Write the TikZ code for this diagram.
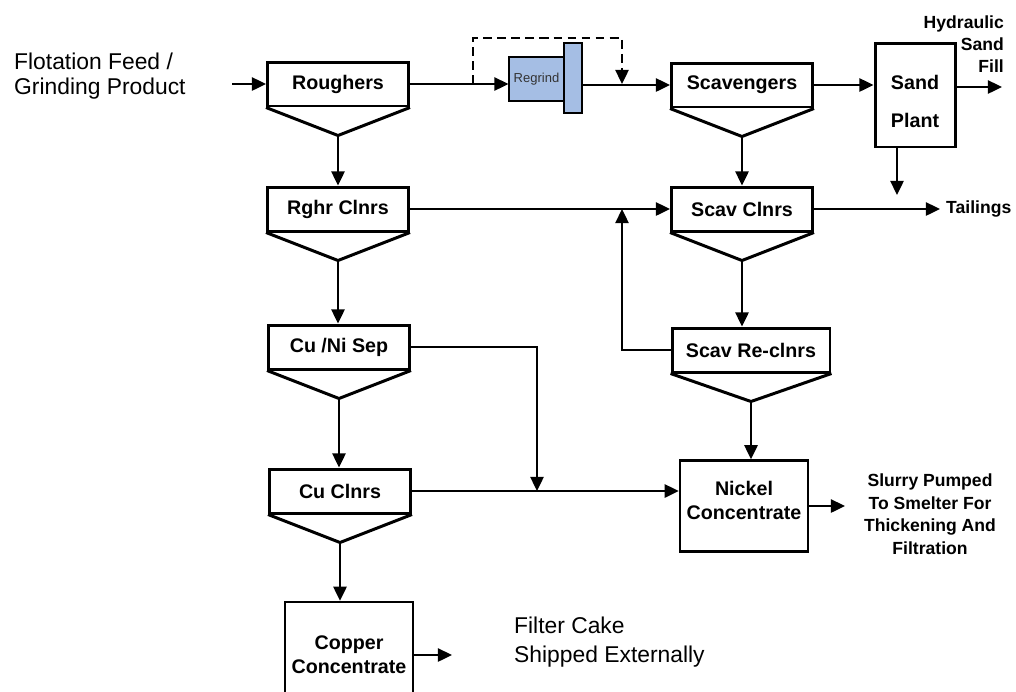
\documentclass[tikz,border=0pt]{standalone}
\usepackage{fontspec}
\setmainfont{Liberation Sans}
\usetikzlibrary{arrows.meta, shapes, positioning, calc}
\definecolor{millblue}{RGB}{165,190,228}

\begin{document}
\begin{tikzpicture}[x=0.02cm, y=-0.02cm,
    cell/.style={draw, line width=1.7pt, minimum width=2.82cm, minimum height=0.88cm,
      font=\fontsize{11.2}{13}\selectfont\bfseries},
    tank/.style={draw, line width=1.4pt, align=center, minimum width=2.56cm,
      font=\fontsize{11.2}{13.8}\selectfont\bfseries},
    mill/.style={draw, line width=0.6pt, fill=millblue, inner sep=0pt},
    note/.style={font=\fontsize{10}{12.4}\selectfont\bfseries},
    plain/.style={font=\fontsize{13}{14.4}\selectfont},
    flow/.style={line width=1.1pt, -{Triangle[length=8pt, width=7.5pt]}},
  ]
      \useasboundingbox (0,0) rectangle (1016,691);

      % Nodes
      \node[plain, align=left, anchor=west] (feed) at (8,76) {Flotation Feed /\\Grinding Product};
      \node[cell] (rough) at (338,84) {Roughers};
      \node[cell] (rcl) at (338,209) {Rghr Clnrs};
      \node[cell] (sep) at (339,347) {Cu /Ni Sep};
      \node[cell] (cucl) at (340,491) {Cu Clnrs};
      \node[tank, minimum height=2.12cm] (copper) at (349,655) {Copper\\Concentrate};
      \node[plain, align=left, anchor=west, font=\fontsize{13}{16.2}\selectfont] (cake) at (508,642) {Filter Cake\\Shipped Externally};

      \node[mill, minimum width=0.36cm, minimum height=1.4cm] (shaft) at (573,78) {};
      \node[mill, minimum width=1.1cm, minimum height=0.88cm, text=black!80,
        font=\fontsize{7.4}{8}\selectfont] (regrind) at (536.5,79) {Regrind};

      \node[cell] (scav) at (742,85) {Scavengers};
      \node[cell] (scl) at (742,209) {Scav Clnrs};
      \node[cell, minimum width=3.16cm] (srcl) at (751,350) {Scav Re-clnrs};
      \node[tank, line width=1.7pt, minimum width=1.6cm, minimum height=2.08cm] (sand) at (915,95) {\rule{0pt}{15.5pt}Sand\\[8pt]Plant};
      \node[tank, minimum height=1.82cm] (nickel) at (744,506) {Nickel\\Concentrate\rule[-6.8pt]{0pt}{0pt}};

      \node[note, align=right, anchor=east] (hsf) at (1010,44) {Hydraulic\\Sand\\Fill};
      \node[note, anchor=west] (tail) at (940,209) {Tailings};
      \node[note, align=center, font=\fontsize{10}{12.8}\selectfont\bfseries] (slurry) at (930,514) {Slurry Pumped\\To Smelter For\\Thickening And\\Filtration};

      % Cell launders
      \foreach \c in {rough, rcl, sep, cucl, scav, scl, srcl} {
        \draw[line width=1.7pt] (\c.south west) -- ($(\c.south)+(0,28)$) coordinate (\c-tip) -- (\c.south east);
      }

      % Free ends
      \coordinate (feedin) at (232,84);
      \coordinate (bypass) at (473,84);
      \coordinate (looptop) at (548,38);
      \coordinate (rejoin) at (622,84);
      \coordinate (fillout) at (1002,87);
      \coordinate (sandout) at (897,195);
      \coordinate (recycle) at (622,209);
      \coordinate (nimerge) at (537,491);
      \coordinate (cakeout) at (452,655);
      \coordinate (slurryout) at (845,506);

      % Edges
      \path[flow] (feedin) edge (rough.west)
                (rough.east) edge (regrind.west |- rough.east)
                (shaft.east |- scav.west) edge (scav.west)
                (scav.east) edge (sand.west |- scav.east)
                (sand.east |- fillout) edge (fillout)
                (sand.south -| sandout) edge (sandout)
                (rough-tip) edge (rcl.north -| rough-tip)
                (rcl-tip) edge (sep.north -| rcl-tip)
                (sep-tip) edge (cucl.north -| sep-tip)
                (cucl-tip) edge (copper.north -| cucl-tip)
                (copper.east) edge (cakeout)
                (scav-tip) edge (scl.north -| scav-tip)
                (scl-tip) edge (srcl.north -| scl-tip)
                (srcl-tip) edge (nickel.north -| srcl-tip)
                (rcl.east) edge (scl.west)
                (scl.east) edge (tail.west |- scl.east)
                (cucl.east) edge (nickel.west |- cucl.east)
                (nickel.east) edge (slurryout);

      \draw[flow] (srcl.west) -| (recycle);
      \draw[flow] (sep.east) -| (nimerge);
      \draw[flow, dash pattern=on 5pt off 3pt] (bypass) |- (looptop) -| (rejoin);

    \end{tikzpicture}
\end{document}
